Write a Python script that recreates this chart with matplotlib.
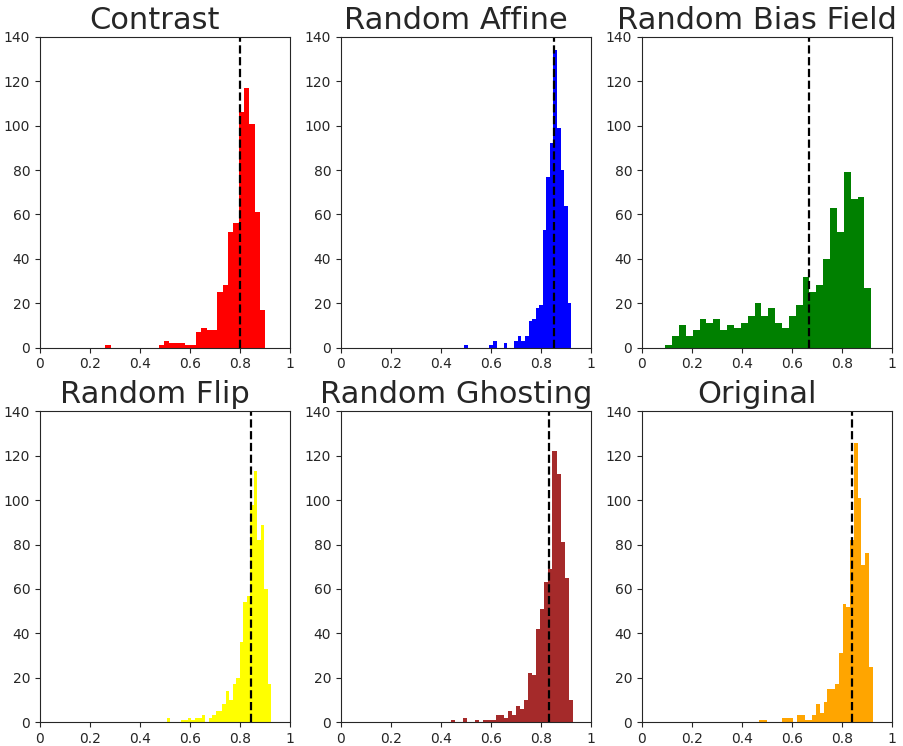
import numpy as np
import matplotlib
matplotlib.use("Agg")
import matplotlib.pyplot as plt

titles = ["Contrast", "Random Affine", "Random Bias Field",
          "Random Flip", "Random Ghosting", "Original"]
colors = ["red", "blue", "green", "yellow", "brown", "orange"]

# histogram ranges (min, max of data) and 30-bin counts
ranges = [(0.261, 0.901), (0.494, 0.921), (0.093, 0.917),
          (0.507, 0.925), (0.440, 0.927), (0.470, 0.923)]

counts_contrast = [1, 0, 0, 0, 0, 0, 0, 0, 0, 0, 1, 3, 2, 2, 2, 1, 1, 7, 9, 8,
                   8, 25, 28, 52, 56, 106, 117, 101, 61, 17]
counts_affine = [1, 0, 0, 0, 0, 0, 0, 1, 3, 0, 0, 2, 0, 0, 3, 5, 3, 5, 12, 13,
                 18, 19, 53, 77, 92, 134, 99, 80, 64, 20]
counts_bias = [1, 5, 10, 5, 8, 13, 11, 13, 8, 10, 9, 11, 14, 20, 14, 18, 11, 9,
               14, 19, 32, 25, 28, 40, 63, 52, 79, 67, 68, 27]
counts_flip = [2, 0, 0, 0, 1, 1, 2, 1, 2, 2, 3, 0, 2, 3, 5, 5, 8, 14, 10, 17,
               20, 36, 54, 57, 98, 113, 82, 89, 60, 17]
counts_ghost = [1, 0, 0, 2, 0, 0, 1, 0, 1, 1, 1, 3, 3, 2, 5, 3, 7, 6, 10, 22,
                21, 42, 51, 63, 69, 122, 112, 81, 65, 10]
counts_orig = [1, 1, 0, 0, 0, 0, 2, 2, 2, 0, 3, 3, 1, 1, 3, 8, 4, 9, 15, 15,
               17, 31, 53, 52, 82, 126, 101, 71, 76, 25]
all_counts = [counts_contrast, counts_affine, counts_bias,
              counts_flip, counts_ghost, counts_orig]

means = [0.800, 0.852, 0.670, 0.844, 0.833, 0.839]

xtick_vals = [0, 0.2, 0.4, 0.6, 0.8, 1.0]
xtick_labels = ["0", "0.2", "0.4", "0.6", "0.8", "1"]
ytick_vals = [0, 20, 40, 60, 80, 100, 120, 140]

text_color = "#262626"
plt.rcParams["text.color"] = text_color
plt.rcParams["xtick.color"] = text_color
plt.rcParams["ytick.color"] = text_color
plt.rcParams["axes.edgecolor"] = text_color

fig, axes = plt.subplots(2, 3, figsize=(9.04, 7.46), dpi=100)
fig.subplots_adjust(left=40 / 904, right=892 / 904, top=1 - 37 / 746,
                    bottom=1 - 722 / 746, wspace=0.204, hspace=0.206)

for ax, title, col, rng, cnt, m in zip(axes.flat, titles, colors, ranges,
                                       all_counts, means):
    edges = np.linspace(rng[0], rng[1], len(cnt) + 1)
    centers = (edges[:-1] + edges[1:]) / 2
    ax.hist(centers, bins=edges, weights=cnt, color=col)
    ax.axvline(m, color="black", linestyle="--", linewidth=1.6)
    ax.set_xlim(0, 1)
    ax.set_ylim(0, 140)
    ax.set_xticks(xtick_vals)
    ax.set_xticklabels(xtick_labels)
    ax.set_yticks(ytick_vals)
    ax.tick_params(labelsize=10)
    ax.set_title(title, fontsize=22, color=text_color, x=0.46)

fig.savefig("out.png", dpi=100)
